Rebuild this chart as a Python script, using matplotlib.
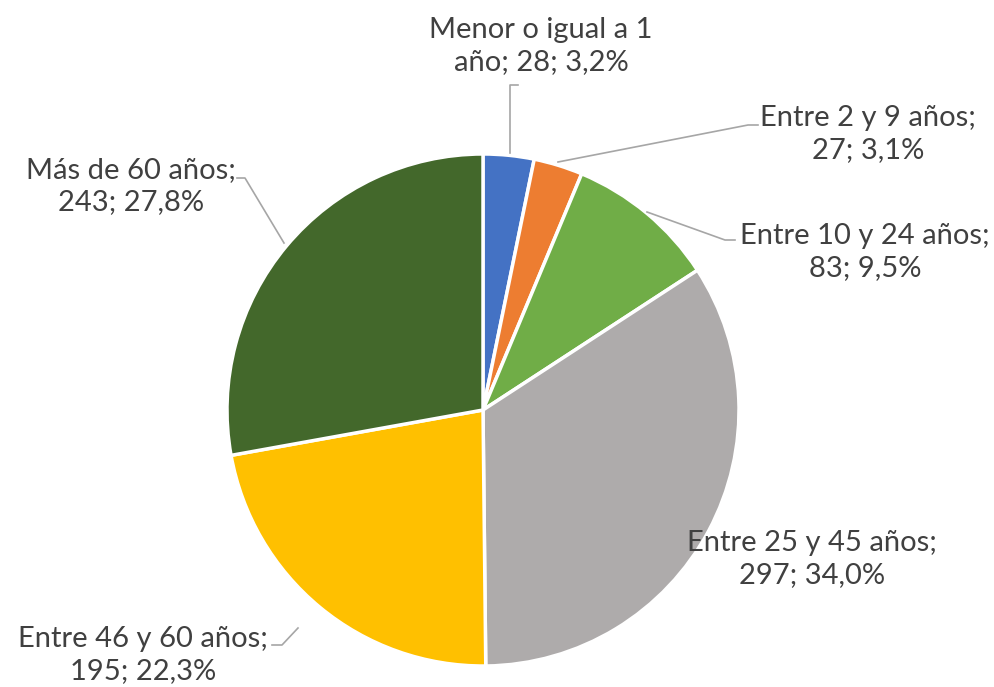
import matplotlib
matplotlib.use("Agg")
import matplotlib.pyplot as plt

categories = ["Menor o igual a 1 año", "Entre 2 y 9 años", "Entre 10 y 24 años",
              "Entre 25 y 45 años", "Entre 46 y 60 años", "Más de 60 años"]
values = [28, 27, 83, 297, 195, 243]
pct_labels = ["3,2%", "3,1%", "9,5%", "34,0%", "22,3%", "27,8%"]
label_texts = ["Menor o igual a 1\naño; 28; 3,2%", "Entre 2 y 9 años;\n27; 3,1%",
               "Entre 10 y 24 años;\n83; 9,5%", "Entre 25 y 45 años;\n297; 34,0%",
               "Entre 46 y 60 años;\n195; 22,3%", "Más de 60 años;\n243; 27,8%"]
colors = ["#4472C4", "#ED7D31", "#70AD47", "#AEABAB", "#FFC000", "#43682B"]

W, H = 995, 687
fig = plt.figure(figsize=(W / 100, H / 100), dpi=100)
ax = fig.add_axes([0, 0, 1, 1])

cx, cy, r = 483, H - 410, 256
ax.pie(values, colors=colors, startangle=90, counterclock=False, center=(cx, cy),
       radius=r, wedgeprops=dict(edgecolor="white", linewidth=2.5), frame=True)
ax.set_xlim(0, W)
ax.set_ylim(0, H)
ax.set_aspect("equal")
ax.axis("off")

fs = 21
# label positions (pixel coords from top) and leader lines
label_pos = [(541, 46), (868, 134), (865, 252), (812, 559), (143, 655), (131, 186)]
leaders = [
    [(510, 153), (510, 85), (518, 85)],
    [(558, 162), (748, 125), (758, 125)],
    [(647, 212), (725, 240), (735, 240)],
    None,
    [(298, 628), (282, 645), (272, 645)],
    [(284, 243), (245, 178), (237, 178)],
]
for txt, (x, y), ld in zip(label_texts, label_pos, leaders):
    ax.text(x, H - y, txt, ha="center", va="center", fontsize=fs, color="#404040",
            linespacing=1.25, family=['Lato', 'DejaVu Sans'])
    if ld:
        ax.plot([p[0] for p in ld], [H - p[1] for p in ld], color="#A6A6A6", lw=1.2)

fig.savefig("out.png", dpi=100, facecolor="white")
